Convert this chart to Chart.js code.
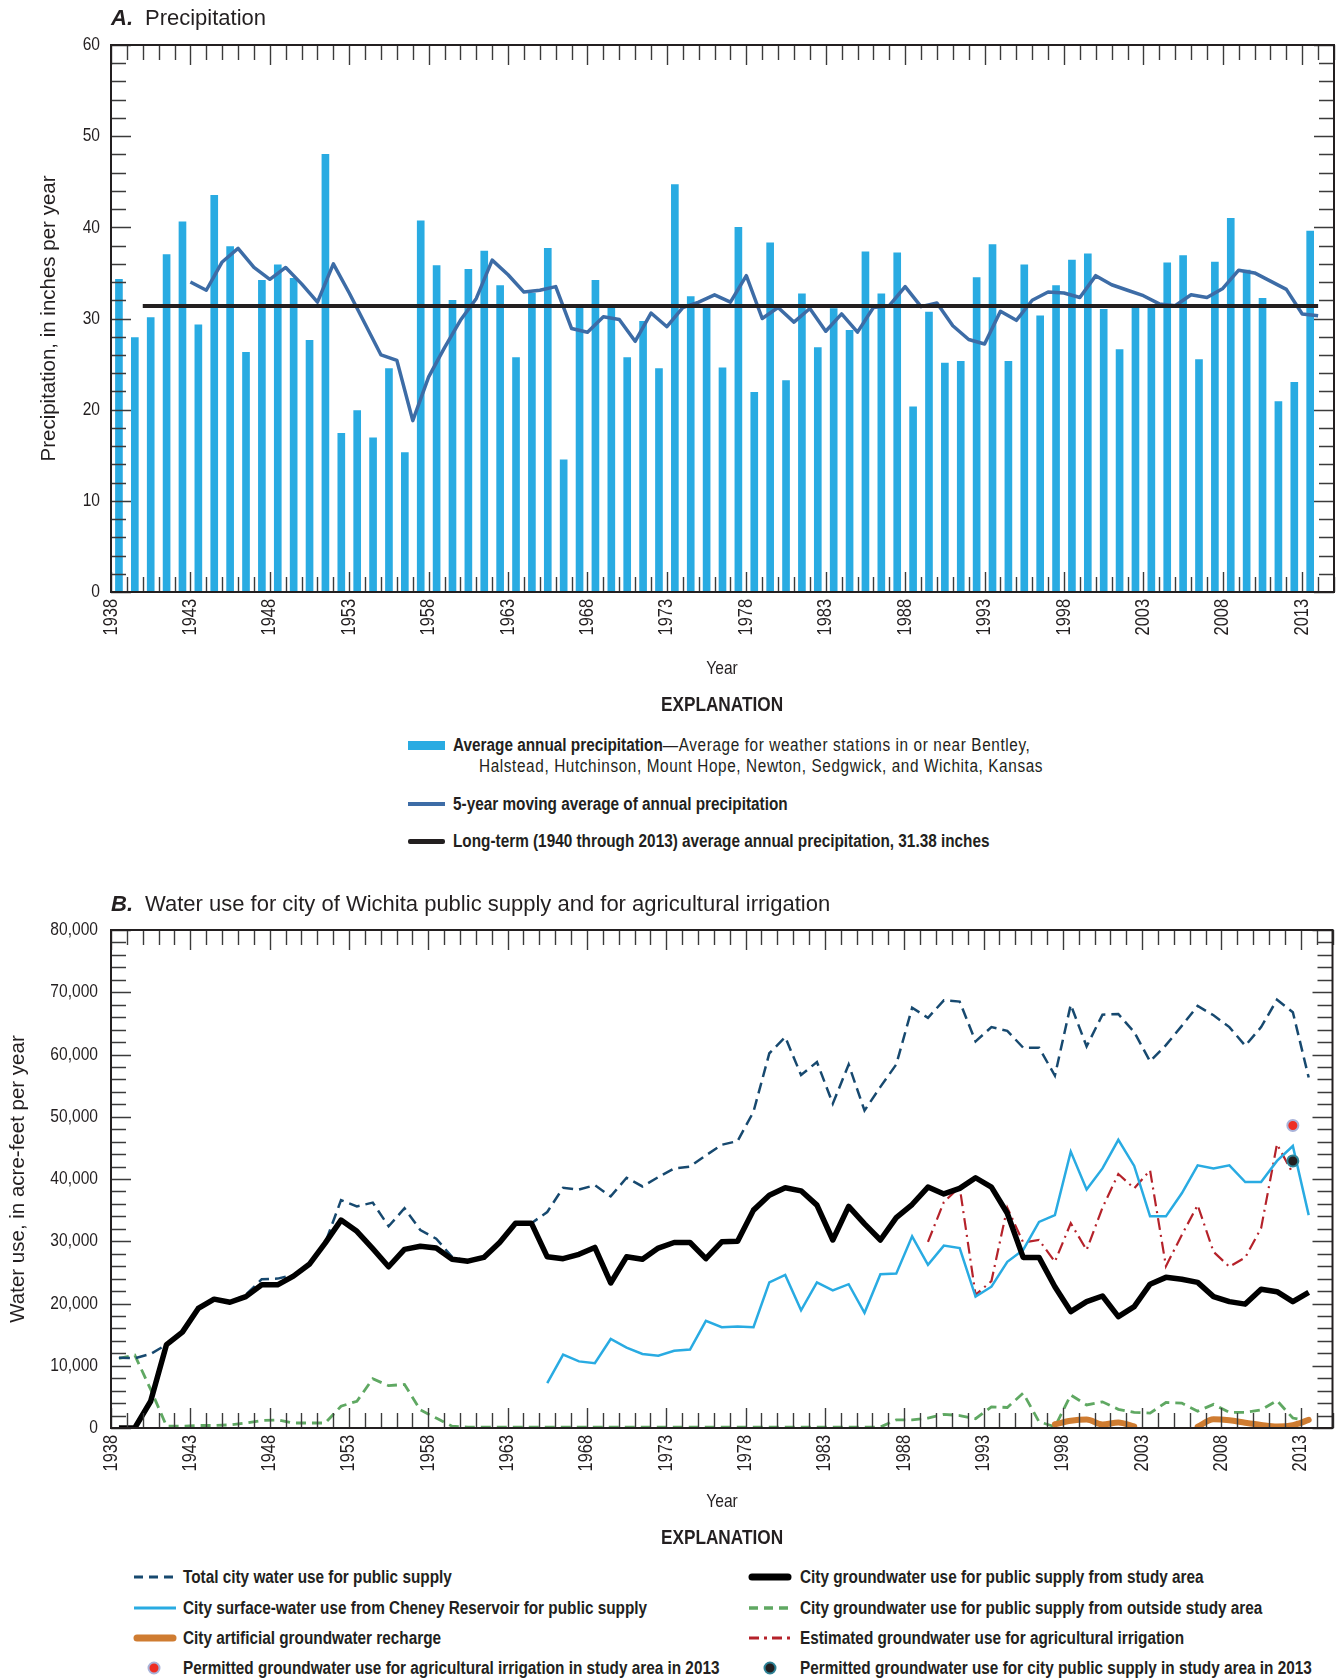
<!DOCTYPE html>
<html>
<head>
<meta charset="utf-8">
<title>Precipitation and water use, Wichita</title>
<script src="https://cdn.jsdelivr.net/npm/chart.js@4.4.1/dist/chart.umd.min.js"></script>
<style>
  html, body { margin: 0; padding: 0; background: #fff; }
  #page { position: relative; width: 1340px; height: 1678px; overflow: hidden; color: #231f20;
          font-family: "Liberation Sans", Arial, sans-serif; }
  canvas { position: absolute; left: 0; }
  .t { position: absolute; white-space: nowrap; line-height: 1; transform: translateY(-50%); transform-origin: 0 50%; }
  .c { font-weight: bold; font-size: 18.7px; transform: translateY(-50%) scaleX(.82); }
  .c.mid { transform: translate(-50%, -50%) scaleX(.82); transform-origin: 50% 50%; }
  .lt { font-weight: normal; letter-spacing: 0.75px; }
  .ttl { font-size: 22px; }
  .ttl b { font-style: italic; margin-right: 12px; }
  .sw { position: absolute; }
</style>
</head>
<body>
<div id="page">
  <canvas id="chartA" width="1340" height="690" style="top:0"></canvas>
  <canvas id="chartB" width="1340" height="640" style="top:880px"></canvas>

  <div class="t ttl" style="left:111px;top:18px"><b>A.</b>Precipitation</div>
  <div class="t ttl" style="left:111px;top:904px"><b>B.</b>Water use for city of Wichita public supply and for agricultural irrigation</div>

  <div class="t c mid" style="left:722px;top:667px;font-weight:normal;font-size:19px">Year</div>
  <div class="t c mid" style="left:722px;top:1500px;font-weight:normal;font-size:19px">Year</div>

  <!-- explanation A -->
  <div class="t c mid" style="left:722px;top:703px;font-size:21px">EXPLANATION</div>
  <div class="sw" style="left:408px;top:741px;width:37px;height:9px;background:#29abe2"></div>
  <div class="t c" style="left:453px;top:745px">Average annual precipitation<span class="lt">—Average for weather stations in or near Bentley,</span></div>
  <div class="t c lt" style="left:479px;top:766px">Halstead, Hutchinson, Mount Hope, Newton, Sedgwick, and Wichita, Kansas</div>
  <div class="sw" style="left:408px;top:802px;width:37px;height:4px;background:#3d6ca6"></div>
  <div class="t c" style="left:453px;top:804px">5-year moving average of annual precipitation</div>
  <div class="sw" style="left:408px;top:839px;width:37px;height:5px;background:#231f20;border-radius:2px"></div>
  <div class="t c" style="left:453px;top:841px">Long-term (1940 through 2013) average annual precipitation, 31.38 inches</div>

  <!-- explanation B -->
  <div class="t c mid" style="left:722px;top:1536px;font-size:21px">EXPLANATION</div>

  <svg class="sw" style="left:132px;top:1567px" width="46" height="20"><line x1="2" y1="10" x2="44" y2="10" stroke="#17496f" stroke-width="3" stroke-dasharray="9 6"/></svg>
  <div class="t c" style="left:183px;top:1577px">Total city water use for public supply</div>
  <svg class="sw" style="left:132px;top:1598px" width="46" height="20"><line x1="2" y1="10" x2="44" y2="10" stroke="#29abe2" stroke-width="3"/></svg>
  <div class="t c" style="left:183px;top:1608px">City surface-water use from Cheney Reservoir for public supply</div>
  <svg class="sw" style="left:132px;top:1628px" width="46" height="20"><line x1="5" y1="10" x2="41" y2="10" stroke="#cf7c31" stroke-width="7" stroke-linecap="round"/></svg>
  <div class="t c" style="left:183px;top:1638px">City artificial groundwater recharge</div>
  <svg class="sw" style="left:144px;top:1658px" width="20" height="20"><circle cx="10" cy="10" r="5.5" fill="#ee2e24" stroke="#a9b3d9" stroke-width="2"/></svg>
  <div class="t c" style="left:183px;top:1668px">Permitted groundwater use for agricultural irrigation in study area in 2013</div>

  <svg class="sw" style="left:747px;top:1567px" width="46" height="20"><line x1="5" y1="10" x2="41" y2="10" stroke="#000" stroke-width="7" stroke-linecap="round"/></svg>
  <div class="t c" style="left:800px;top:1577px">City groundwater use for public supply from study area</div>
  <svg class="sw" style="left:747px;top:1598px" width="46" height="20"><line x1="2" y1="10" x2="44" y2="10" stroke="#5fa862" stroke-width="3.5" stroke-dasharray="9 6"/></svg>
  <div class="t c" style="left:800px;top:1608px">City groundwater use for public supply from outside study area</div>
  <svg class="sw" style="left:747px;top:1628px" width="46" height="20"><line x1="2" y1="10" x2="44" y2="10" stroke="#b5222a" stroke-width="3" stroke-dasharray="10 5 3 5"/></svg>
  <div class="t c" style="left:800px;top:1638px">Estimated groundwater use for agricultural irrigation</div>
  <svg class="sw" style="left:760px;top:1658px" width="20" height="20"><circle cx="10" cy="10" r="5.5" fill="#231f20" stroke="#2d8296" stroke-width="2"/></svg>
  <div class="t c" style="left:800px;top:1668px">Permitted groundwater use for city public supply in study area in 2013</div>
</div>

<script>
// ---- data -------------------------------------------------------------
const years = [1938, 1939, 1940, 1941, 1942, 1943, 1944, 1945, 1946, 1947,
  1948, 1949, 1950, 1951, 1952, 1953, 1954, 1955, 1956, 1957,
  1958, 1959, 1960, 1961, 1962, 1963, 1964, 1965, 1966, 1967,
  1968, 1969, 1970, 1971, 1972, 1973, 1974, 1975, 1976, 1977,
  1978, 1979, 1980, 1981, 1982, 1983, 1984, 1985, 1986, 1987,
  1988, 1989, 1990, 1991, 1992, 1993, 1994, 1995, 1996, 1997,
  1998, 1999, 2000, 2001, 2002, 2003, 2004, 2005, 2006, 2007,
  2008, 2009, 2010, 2011, 2012, 2013];
const labelYears = [1938, 1943, 1948, 1953, 1958, 1963, 1968, 1973, 1978, 1983,
  1988, 1993, 1998, 2003, 2008, 2013];

// A. annual precipitation, inches (1938-2013)
const precip = [34.3, 27.9, 30.1, 37.0, 40.6, 29.3, 43.5, 37.9, 26.3, 34.2,
  35.9, 34.4, 27.6, 48.0, 17.4, 19.9, 16.9, 24.5, 15.3, 40.7,
  35.8, 32.0, 35.4, 37.4, 33.6, 25.7, 32.8, 37.7, 14.5, 31.3,
  34.2, 31.2, 25.7, 29.7, 24.5, 44.7, 32.4, 31.5, 24.6, 40.0,
  21.9, 38.3, 23.2, 32.7, 26.8, 31.1, 28.7, 37.3, 32.7, 37.2,
  20.3, 30.7, 25.1, 25.3, 34.5, 38.1, 25.3, 35.9, 30.3, 33.6,
  36.4, 37.1, 31.0, 26.6, 31.2, 31.4, 36.1, 36.9, 25.5, 36.2,
  41.0, 35.3, 32.2, 20.9, 23.0, 39.6];
// 5-year moving average, plotted 1943-2014
const movingAvgStart = 1943;
const movingAvg = [34.0, 33.1, 36.2, 37.7, 35.6, 34.3, 35.6, 33.8, 31.8, 36.0,
  32.8, 29.4, 26.0, 25.4, 18.8, 23.6, 26.8, 29.8, 32.2, 36.4,
  34.8, 32.9, 33.1, 33.5, 28.9, 28.5, 30.2, 29.9, 27.5, 30.6,
  29.1, 31.2, 31.8, 32.6, 31.8, 34.7, 30.0, 31.2, 29.6, 31.1,
  28.6, 30.5, 28.5, 31.2, 31.4, 33.5, 31.3, 31.7, 29.2, 27.7,
  27.2, 30.8, 29.8, 32.0, 32.9, 32.8, 32.3, 34.7, 33.7, 33.1,
  32.5, 31.6, 31.4, 32.6, 32.3, 33.3, 35.3, 35.0, 34.1, 33.2,
  30.5, 30.3];
const longTermAvg = 31.38;
const longTermYears = [1940, 2014];

// B. water use, acre-feet per year (1938-2013)
const totalCity = [11300, 11200, 11900, 13400, 15400, 19200, 20700, 20200, 21400, 23900,
  24000, 24600, 26300, 29700, 36600, 35600, 36200, 32400, 35300, 31800,
  30400, 27500, 26800, 27400, 29800, 32900, 32900, 34700, 38600, 38300,
  39000, 37200, 40200, 38800, 40300, 41700, 42000, 43800, 45500, 46100,
  50800, 60200, 62800, 56700, 58800, 52100, 58400, 51000, 54800, 58400,
  67500, 65900, 68700, 68500, 62100, 64400, 63800, 61100, 61100, 56600,
  68000, 61300, 66400, 66500, 63600, 58900, 61500, 64600, 67800, 66300,
  64400, 61400, 64400, 68800, 66800, 56300];
const gwStudyArea = [0, 0, 4300, 13400, 15400, 19200, 20700, 20200, 21100, 23000,
  23000, 24400, 26300, 29700, 33400, 31600, 28800, 25900, 28700, 29200,
  28900, 27100, 26800, 27400, 29800, 32900, 32900, 27500, 27200, 27900,
  29000, 23300, 27500, 27100, 28900, 29800, 29800, 27200, 29900, 30000,
  35000, 37400, 38600, 38100, 35800, 30200, 35600, 32800, 30200, 33800,
  35900, 38700, 37600, 38500, 40200, 38700, 34500, 27400, 27400, 22700,
  18700, 20300, 21200, 17900, 19500, 23100, 24200, 23900, 23400, 21100,
  20300, 19900, 22300, 21900, 20300, 21800];
const gwOutside = [11200, 11700, 6200, 300, 300, 400, 400, 500, 800, 1200,
  1300, 800, 800, 800, 3500, 4300, 7900, 6800, 7000, 2900,
  1600, 300, 150, 150, 150, 150, 150, 150, 150, 150,
  150, 150, 150, 150, 150, 150, 150, 150, 150, 150,
  150, 150, 150, 150, 150, 150, 150, 150, 150, 1300,
  1300, 1600, 2200, 2000, 1500, 3400, 3300, 5600, 1000, 200,
  5300, 3700, 4200, 3000, 2500, 2400, 4100, 4000, 2700, 3800,
  2500, 2500, 2900, 4400, 1600, 1100];
const surfaceStart = 1965;
const surfaceCheney = [7200, 11800, 10700, 10400, 14300, 12900, 11900, 11600, 12400, 12600,
  17200, 16200, 16300, 16200, 23400, 24600, 18900, 23400, 22100, 23100,
  18500, 24700, 24800, 30800, 26200, 29300, 28900, 21100, 22700, 26700,
  28600, 33100, 34200, 44400, 38300, 41700, 46300, 42100, 34000, 34000,
  37700, 42200, 41700, 42200, 39500, 39500, 42900, 45300, 34200];
const irrigationStart = 1989;
const irrigation = [29900, 36300, 38700, 21400, 23600, 35400, 29800, 30200, 26700, 32900,
  28600, 35400, 40800, 38500, 41400, 26000, 31000, 35800, 28300, 25900,
  27400, 32100, 45600, 40900];
const rechargeStart = 1997;
const recharge = [600, 1150, 1350, 550, 900, 250, null, null, null, 200,
  1400, 1250, 850, 500, 250, 450, 1300];
const permitYear = 2012;
const permittedIrrigation = 48600;
const permittedCity = 42900;

// ---- helpers ------------------------------------------------------------
const INK = '#231f20';
const SANS = '"Liberation Sans", Arial, sans-serif';
const NARROW = 0.82;   // Arial squeezed to look like the narrow face of the original

function pts(firstYear, values, shift) {
  return values.map((v, i) => ({ x: firstYear + i + shift, y: v }));
}

// squeeze a scale's tick labels toward their anchor so they read as condensed type
function narrowLabels(s) {
  if (s._narrow) return;
  s._narrow = true;
  const orig = s.drawLabels;
  s.drawLabels = function (area) {
    const ctx = this.ctx;
    const pad = this.options.ticks.padding;
    ctx.save();
    if (this.isHorizontal()) {
      const y0 = this.top + pad;
      ctx.translate(0, y0); ctx.scale(1, NARROW); ctx.translate(0, -y0);
    } else {
      const x0 = this.right - pad;
      ctx.translate(x0, 0); ctx.scale(NARROW, 1); ctx.translate(-x0, 0);
    }
    orig.call(this, area);
    ctx.restore();
  };
}

// inward tick marks on all four sides plus the frame
const frameTicks = {
  id: 'frameTicks',
  afterDraw(chart, args, opts) {
    const { ctx, chartArea: a, scales: { x, y } } = chart;
    ctx.save();
    ctx.strokeStyle = '#3b3b3b';
    ctx.lineWidth = 1.4;
    ctx.beginPath();
    for (let yr = 1938; yr <= 2015; yr++) {
      const px = Math.round(x.getPixelForValue(yr)) + 0.5;
      const len = (yr - 1938) % 5 === 0 ? 20 : 15;
      ctx.moveTo(px, a.top); ctx.lineTo(px, a.top + len);
      ctx.moveTo(px, a.bottom); ctx.lineTo(px, a.bottom - len);
    }
    const n = Math.round((y.max - y.min) / opts.minor);
    for (let i = 0; i <= n; i++) {
      const v = y.min + i * opts.minor;
      const py = Math.round(y.getPixelForValue(v)) + 0.5;
      const len = v % opts.major === 0 ? 20 : 15;
      ctx.moveTo(a.left, py); ctx.lineTo(a.left + len, py);
      ctx.moveTo(a.right, py); ctx.lineTo(a.right - len, py);
    }
    ctx.stroke();
    ctx.strokeStyle = INK;
    ctx.lineWidth = 2;
    ctx.strokeRect(a.left, a.top, a.right - a.left, a.bottom - a.top);
    ctx.restore();
  }
};

function xScale(axisHeight) {
  return {
    type: 'linear', min: 1938, max: 2015, offset: false,
    grid: { display: false, drawTicks: false }, border: { display: false },
    afterBuildTicks: s => { s.ticks = labelYears.map(v => ({ value: v })); },
    afterFit: s => { s.height = axisHeight; },
    afterUpdate: narrowLabels,
    ticks: { minRotation: 90, maxRotation: 90, autoSkip: false, padding: 7,
             color: INK, font: { family: SANS, size: 20 }, callback: v => String(v) }
  };
}

function yScale(max, step, pad, fmt, title, titlePad) {
  return {
    min: 0, max: max,
    grid: { display: false, drawTicks: false }, border: { display: false },
    afterFit: s => { s.width = 111; },
    afterUpdate: narrowLabels,
    ticks: { stepSize: step, padding: pad, color: INK, font: { family: SANS, size: 19 }, callback: fmt },
    title: { display: true, text: title, color: INK,
             font: { family: SANS, size: 20.5 }, padding: { top: titlePad } }
  };
}

// ---- chart A ------------------------------------------------------------
new Chart(document.getElementById('chartA'), {
  type: 'bar',
  data: {
    datasets: [
      { type: 'line', data: longTermYears.map(yr => ({ x: yr, y: longTermAvg })),
        borderColor: INK, borderWidth: 4, pointRadius: 0, order: 1 },
      { type: 'line', data: pts(movingAvgStart, movingAvg, 0),
        borderColor: '#3d6ca6', borderWidth: 3.5, borderJoinStyle: 'round', pointRadius: 0, order: 2 },
      { type: 'bar', data: pts(years[0], precip, 0.5),
        backgroundColor: '#29abe2', barThickness: 7, order: 3 }
    ]
  },
  options: {
    responsive: false, animation: false, devicePixelRatio: 1,
    layout: { padding: { top: 45, right: 6, left: 0, bottom: 0 } },
    plugins: { legend: { display: false }, tooltip: { enabled: false },
               frameTicks: { minor: 2, major: 10 } },
    scales: {
      x: xScale(98),
      y: yScale(60, 10, 11, v => String(v), 'Precipitation, in inches per year', 37)
    }
  },
  plugins: [frameTicks]
});

// ---- chart B ------------------------------------------------------------
new Chart(document.getElementById('chartB'), {
  type: 'line',
  data: {
    datasets: [
      { type: 'scatter', data: [{ x: permitYear + 0.5, y: permittedIrrigation }],
        pointRadius: 5.5, pointBackgroundColor: '#ee2e24', pointBorderColor: '#a9b3d9', pointBorderWidth: 2, order: 0 },
      { type: 'scatter', data: [{ x: permitYear + 0.5, y: permittedCity }],
        pointRadius: 5.5, pointBackgroundColor: INK, pointBorderColor: '#2d8296', pointBorderWidth: 2, order: 0 },
      { data: pts(years[0], gwStudyArea, 0.5), borderColor: '#000', borderWidth: 5.5,
        borderJoinStyle: 'round', pointRadius: 0, order: 1 },
      { data: pts(rechargeStart, recharge, 0.5), borderColor: '#cf7c31', borderWidth: 6,
        borderCapStyle: 'round', cubicInterpolationMode: 'monotone', spanGaps: false, pointRadius: 0, order: 2 },
      { data: pts(surfaceStart, surfaceCheney, 0.5), borderColor: '#29abe2', borderWidth: 2.5,
        pointRadius: 0, order: 3 },
      { data: pts(irrigationStart, irrigation, 0.5), borderColor: '#b5222a', borderWidth: 2.2,
        borderDash: [12, 5, 2, 5], pointRadius: 0, order: 4 },
      { data: pts(years[0], totalCity, 0.5), borderColor: '#17496f', borderWidth: 2.5,
        borderDash: [11, 6], pointRadius: 0, order: 5 },
      { data: pts(years[0], gwOutside, 0.5), borderColor: '#5fa862', borderWidth: 2.8,
        borderDash: [10, 6], pointRadius: 0, order: 6 }
    ]
  },
  options: {
    responsive: false, animation: false, devicePixelRatio: 1,
    layout: { padding: { top: 50, right: 6, left: 0, bottom: 0 } },
    plugins: { legend: { display: false }, tooltip: { enabled: false },
               frameTicks: { minor: 2000, major: 10000 } },
    scales: {
      x: xScale(92),
      y: yScale(80000, 10000, 13, v => v.toLocaleString('en-US'), 'Water use, in acre-feet per year', 6)
    }
  },
  plugins: [frameTicks]
});
</script>
</body>
</html>
